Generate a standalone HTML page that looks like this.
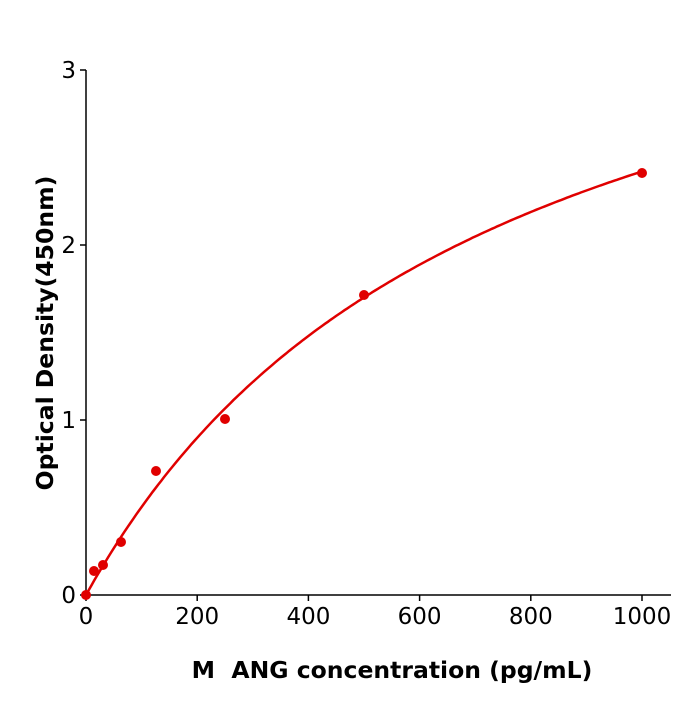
<!DOCTYPE html>
<html><head><style>body{margin:0;background:#fff}</style></head><body>
<svg width="700" height="700" xmlns="http://www.w3.org/2000/svg" font-family="DejaVu Sans, Liberation Sans, sans-serif">
<rect width="700" height="700" fill="#fff"/>
<g stroke="#000" stroke-width="1.5" fill="none">
<line x1="86" y1="595" x2="671" y2="595"/>
<line x1="86" y1="595" x2="86" y2="70"/>
<line x1="86" y1="595" x2="86" y2="601"/>
<line x1="197.2" y1="595" x2="197.2" y2="601"/>
<line x1="308.4" y1="595" x2="308.4" y2="601"/>
<line x1="419.6" y1="595" x2="419.6" y2="601"/>
<line x1="530.8" y1="595" x2="530.8" y2="601"/>
<line x1="642" y1="595" x2="642" y2="601"/>
<line x1="80" y1="595" x2="86" y2="595"/>
<line x1="80" y1="420" x2="86" y2="420"/>
<line x1="80" y1="245" x2="86" y2="245"/>
<line x1="80" y1="70" x2="86" y2="70"/>
</g>
<g font-size="23" text-anchor="middle" fill="#000">
<text x="86" y="624">0</text><text x="197.2" y="624">200</text><text x="308.4" y="624">400</text>
<text x="419.6" y="624">600</text><text x="530.8" y="624">800</text><text x="642" y="624">1000</text>
</g>
<g font-size="23" text-anchor="end" fill="#000">
<text x="76" y="603">0</text><text x="76" y="428">1</text><text x="76" y="253">2</text><text x="76" y="78">3</text>
</g>
<text x="392" y="678" font-size="23.5" font-weight="bold" text-anchor="middle">M&#160; ANG concentration (pg/mL)</text>
<text transform="translate(53,333) rotate(-90)" font-size="23.5" font-weight="bold" text-anchor="middle">Optical Density(450nm)</text>
<polyline id="curve" fill="none" stroke="#e00000" stroke-width="2.5" points="86,595 99.9,570.9 113.8,548.2 141.6,507 169.4,470.4 197.2,437.9 252.8,382 308.4,336 364,297.5 419.6,264.8 475.2,236.6 530.8,212.1 586.4,190.6 642,171.5"/>
<g fill="#e00000">
<circle cx="86" cy="595" r="5"/><circle cx="94" cy="571" r="5"/><circle cx="103" cy="565" r="5"/>
<circle cx="121" cy="542" r="5"/><circle cx="156" cy="471" r="5"/><circle cx="225" cy="419" r="5"/>
<circle cx="364" cy="295" r="5"/><circle cx="642" cy="173" r="5"/>
</g>
</svg>
<script>
var p=[];for(var x=0;x<=1000;x+=5){var y=4.198*x/(734.6+x);p.push((86+0.556*x).toFixed(1)+","+(595-175*y).toFixed(1));}
document.getElementById("curve").setAttribute("points",p.join(" "));
</script>
</body></html>
